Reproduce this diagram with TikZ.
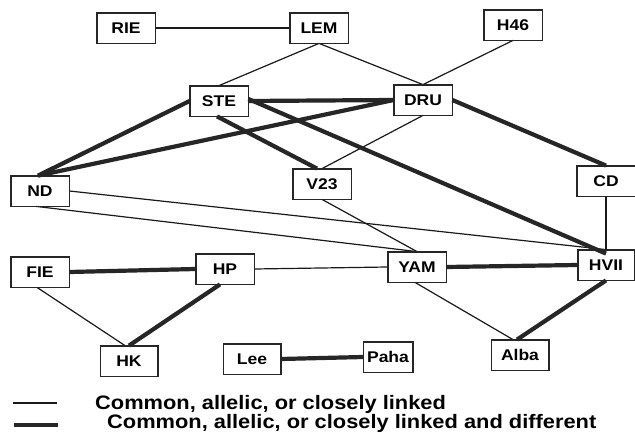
\documentclass[tikz,border=0pt]{standalone}
\usepackage{graphicx}
\usepackage{fontspec}
\setmainfont{Liberation Sans}
\newcommand\nodelabel[1]{\scalebox{1.13}[1]{#1}}
\newcommand\legendtext[1]{\scalebox{1.12}[1]{#1}}
\begin{document}
\begin{tikzpicture}[x=1pt,y=-1pt,
  box/.style={draw=black!85,line width=0.8pt,fill=white,minimum width=58pt,minimum height=30pt,inner sep=0pt,font=\fontsize{15.5}{16}\selectfont\bfseries},
  thin/.style={draw=black!90,line width=1.2pt},
  thick/.style={draw=black!85,line width=4.2pt},
  legend/.style={anchor=base west,inner sep=0pt,font=\fontsize{19.5}{20}\selectfont\bfseries}]
\useasboundingbox[fill=white] (0,0) rectangle (635,433);
% nodes
\node[box] (RIE) at (126,28) {\nodelabel{RIE}};
\node[box] (LEM) at (319,28) {\nodelabel{LEM}};
\node[box] (H46) at (513,25) {\nodelabel{H46}};
\node[box] (STE) at (219,101) {\nodelabel{STE}};
\node[box] (DRU) at (423,100) {\nodelabel{DRU}};
\node[box] (ND) at (40,191) {\nodelabel{ND}};
\node[box] (V23) at (322,184) {\nodelabel{V23}};
\node[box] (CD) at (606,181) {\nodelabel{CD}};
\node[box] (FIE) at (40,272) {\nodelabel{FIE}};
\node[box] (HP) at (225,269) {\nodelabel{HP}};
\node[box] (YAM) at (417,267) {\nodelabel{YAM}};
\node[box,minimum width=56pt] (HVII) at (606,265) {\nodelabel{HVII}};
\node[box,minimum width=57pt] (HK) at (129,361) {\nodelabel{HK}};
\node[box,minimum width=57pt] (Lee) at (252,359) {\nodelabel{Lee}};
\node[box,minimum width=49pt] (Paha) at (388,357) {\nodelabel{Paha}};
\node[box,minimum width=57pt] (Alba) at (520,355) {\nodelabel{Alba}};
% thin connectors
\draw[thin] (RIE.east) -- (LEM.west);
\draw[thin] (LEM.south) -- (STE.north);
\draw[thin] (LEM.south) -- (DRU.north);
\draw[thin] (H46.south) -- (DRU.north);
\draw[thin] (DRU.south) -- (V23.north);
\draw[thin] (V23.south) -- (YAM.north);
\draw[thin] (ND.east) -- (HVII.north);
\draw[thin] ([xshift=-4pt]ND.south) -- (YAM.north);
\draw[thin] (CD.south) -- (HVII.north);
\draw[thin] (HP.east) -- (YAM.west);
\draw[thin] ([xshift=-3pt]FIE.south) -- ([xshift=-4pt]HK.north);
\draw[thin] ([xshift=-2pt]YAM.south) -- ([xshift=-7pt]Alba.north);
% thick connectors
\draw[thick] (STE.east) -- (DRU.west);
\draw[thick] (STE.west) -- ([xshift=-2pt]ND.north);
\draw[thick] (DRU.west) -- ([xshift=-2pt]ND.north);
\draw[thick] ([xshift=-2pt]STE.south) -- ([xshift=-5pt]V23.north);
\draw[thick] ([yshift=2pt]STE.east) -- ([yshift=-4pt]HVII.north);
\draw[thick] (DRU.east) -- (CD.north);
\draw[thick] (FIE.east) -- (HP.west);
\draw[thick] ([xshift=-5pt]HP.south) -- (HK.north);
\draw[thick] (YAM.east) -- (HVII.west);
\draw[thick] (HVII.south) -- ([xshift=-3pt]Alba.north);
\draw[thick] (Lee.east) -- (Paha.west);
% redraw box outlines on top
\foreach \n in {RIE,LEM,H46,STE,DRU,ND,V23,CD,FIE,HP,YAM,HVII,HK,Lee,Paha,Alba}{
  \draw[draw=black!85,line width=0.8pt] (\n.south west) rectangle (\n.north east);
}
% legend
\coordinate (l1a) at (13,403); \coordinate (l1b) at (57,403);
\coordinate (l2a) at (14,425); \coordinate (l2b) at (58,425);
\draw[thin] (l1a) -- (l1b);
\draw[thick] (l2a) -- (l2b);
\node[legend] (t1) at (95,409) {\legendtext{Common, allelic, or closely linked}};
\node[legend] (t2) at (107,428) {\legendtext{Common, allelic, or closely linked and different}};
\end{tikzpicture}
\end{document}
